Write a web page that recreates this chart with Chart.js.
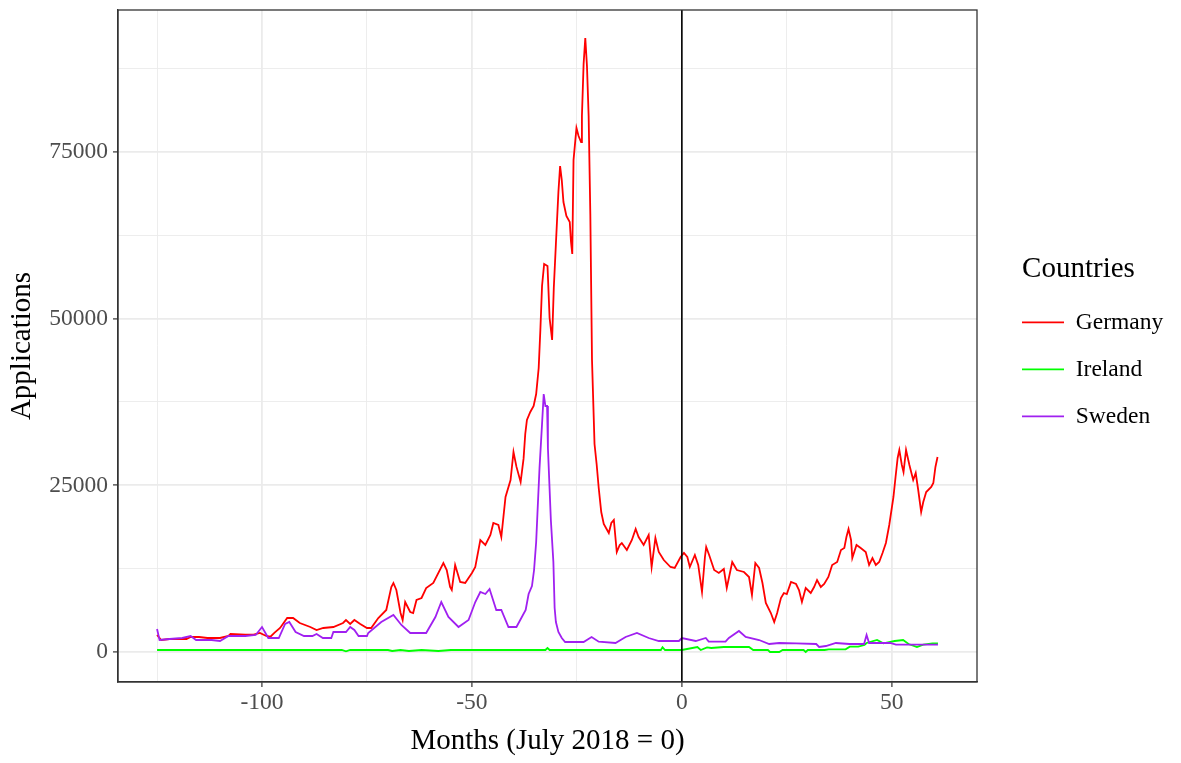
<!DOCTYPE html>
<html>
<head>
<meta charset="utf-8">
<script src="https://cdn.jsdelivr.net/npm/chart.js@4.4.1/dist/chart.umd.min.js"></script>
<style>
  html, body { margin: 0; padding: 0; background: #ffffff; }
  #wrap { width: 1181px; height: 763px; }
</style>
</head>
<body>
<div id="wrap"><canvas id="c" width="1181" height="763"></canvas></div>
<script>
// ---------------- data ----------------
const countries = ['Germany', 'Ireland', 'Sweden'];
const seriesColors = ['#ff0000', '#00ff00', '#a020f0'];

const germanyMonths = [-125,-124,-122,-120,-118,-117,-115,-113,-110,-108,-107.5,-104,-102,-100.5,-99,-98,-97,-95.7,-94,-92.6,-91,-88.5,-87,-85.4,-83,-80.7,-80,-79,-78,-76.6,-75,-74,-72.3,-70.4,-69.2,-68.7,-68,-67,-66.5,-65.9,-64.7,-64,-63.2,-62,-60.9,-59.2,-56.8,-56,-55.2,-54.8,-54,-52.8,-51.6,-50,-49.2,-48,-46.8,-45.6,-44.9,-43.7,-43,-42,-40.8,-40.1,-39.4,-38.4,-37.7,-37.3,-36.9,-36.1,-35.3,-34.7,-34.1,-33.7,-33.3,-32.8,-32,-31.5,-30.9,-30.5,-30,-29.4,-29,-28.6,-28.2,-27.5,-26.7,-26.4,-26.1,-25.8,-25.1,-24.6,-24,-23.8,-23.4,-23,-22.6,-22.2,-21.8,-21.4,-20.8,-20.3,-19.8,-19.2,-18.6,-17.4,-16.8,-16.2,-15.5,-14.8,-14.3,-13.1,-11.9,-11,-10.3,-9.1,-7.9,-7.2,-6.3,-5.5,-4.3,-2.7,-1.7,-0.3,0.5,1.3,1.9,3.1,3.9,4.8,5.5,5.8,6.5,7.7,8.8,10,10.7,12,13.1,14.8,16,16.7,17.5,18.4,19.2,20,21.2,22,22.7,23.6,24.3,25,26,27.2,27.9,28.6,29.5,30.7,31.5,32.2,33.1,33.9,34.9,35.8,37,37.9,38.7,39.2,39.7,40.3,40.6,41.6,42.6,43.8,44.6,45.4,46.2,47,47.8,48.6,49.4,50.4,50.9,51.4,51.8,52.4,52.8,53.4,54.2,55.1,55.7,56.3,57,57.5,58.2,59.4,59.9,60.4,60.9];
const germanyApps = [2550,1800,1950,1950,1950,2250,2250,2100,2100,2400,2700,2600,2600,2850,2400,2300,2900,3600,5100,5100,4350,3750,3300,3600,3750,4350,4800,4200,4800,4200,3600,3600,5100,6300,9750,10350,9300,5850,4800,7500,6000,5850,7800,8100,9600,10350,13350,12300,9750,9300,13050,10500,10350,11850,12750,16800,16050,17550,19350,19050,17250,23250,25800,30000,27800,25500,29000,32700,34800,36000,36900,38700,42600,48300,54900,58200,57900,50100,46800,54600,61200,69000,72900,70800,67500,65400,64500,61500,59700,73800,78600,77400,76500,80400,88200,92100,87900,80400,65700,43800,31200,28200,24600,21000,19200,17850,19350,19800,15000,16050,16350,15300,16800,18450,17250,16050,17550,12750,17100,15000,13800,12750,12600,14250,14850,14250,12750,14550,13050,9000,14250,15750,14550,12300,11850,12450,9600,13500,12300,12000,11250,8550,13350,12600,10350,7350,5850,4500,5850,8100,8850,8700,10500,10200,9300,7500,9600,8850,9750,10800,9750,10200,11250,13050,13500,15300,15600,17250,18450,16800,14100,16050,15600,15000,13050,14100,13050,13500,14850,16350,19050,23250,26250,29100,30300,28050,27000,30300,28050,25800,26850,24300,21000,22500,24000,24750,25350,27750,29250];

const irelandMonths = [-125,-81,-80,-79,-70,-69,-67,-65,-62,-58,-55,-32.5,-32,-31.5,-5,-4.6,-4,0,3.7,4.5,6,7,10,16,17,20.5,21,23.2,24,29,29.5,30,34,35,39,40,42,43.5,44,46.5,48,50.7,52.7,54,56,57.5,59.7,61];
const irelandApps = [300,300,100,300,300,150,300,150,300,150,300,300,600,300,300,700,300,300,750,300,700,600,750,750,300,300,0,0,300,300,0,300,300,400,400,800,800,1050,1350,1800,1300,1650,1800,1200,750,1100,1300,1300];

const swedenMonths = [-125,-124.4,-122,-119,-117,-115.7,-112,-110,-108,-104,-101.5,-100,-98.5,-96,-94.5,-93.5,-92,-90,-88,-87,-85.5,-83.5,-83,-80,-79,-78,-77,-75,-74.7,-71.6,-68.7,-66.8,-64.7,-60.9,-58.7,-57.3,-55.6,-53.2,-50.8,-49.2,-48,-46.8,-45.8,-44.2,-43,-41.3,-39.4,-37.2,-36.5,-35.7,-35.2,-34.7,-34.4,-33.9,-33.3,-32.9,-32.5,-32.1,-31.9,-31.2,-30.6,-30.3,-30,-29.4,-28.6,-27.8,-23.4,-21.5,-19.8,-15.8,-13.4,-10.7,-7.9,-5.5,-0.7,0,3.3,5.7,6.4,10.4,11.2,13.6,15.2,18.4,20.8,23.2,27.2,32,32.7,34.3,36.7,39.9,43.4,44,44.6,49.6,51,61];
const swedenApps = [3450,1800,1950,2100,2400,1800,1800,1650,2400,2400,2550,3750,2100,2100,4200,4500,3000,2400,2400,2700,2100,2100,3000,3000,3750,3300,2400,2400,2850,4500,5550,4050,2850,2850,5250,7500,5250,3750,4800,7500,9000,8700,9450,6300,6300,3750,3750,6300,8700,9900,12300,16500,20700,27600,34200,38700,36900,36900,30600,19800,13500,6600,4500,3000,2100,1500,1500,2250,1550,1350,2250,2850,2100,1650,1650,2100,1650,2100,1550,1550,2100,3150,2250,1800,1200,1350,1300,1200,750,900,1350,1200,1200,2550,1350,1350,1100,1100];

const xTicks = [-125, -100, -75, -50, -25, 0, 25, 50];
const xLabelled = [-100, -50, 0, 50];
const yTicks = [0, 12500, 25000, 37500, 50000, 62500, 75000, 87500];
const yLabelled = [0, 25000, 50000, 75000];
const xRange = [-134.3, 70.3];
const yRange = [-4500, 96300];

// ---------------- chart ----------------
const serif = '"Liberation Serif", "Times New Roman", serif';
const seriesMonths = [germanyMonths, irelandMonths, swedenMonths];
const seriesApps = [germanyApps, irelandApps, swedenApps];

const datasets = countries.map((name, k) => ({
  label: name,
  data: seriesMonths[k].map((m, i) => ({ x: m, y: seriesApps[k][i] })),
  borderColor: seriesColors[k],
  backgroundColor: seriesColors[k],
  borderWidth: 1.8,
  pointRadius: 0,
  pointHoverRadius: 0,
  tension: 0,
  order: 3 - k
}));

const panelFrame = {
  id: 'panelFrame',
  afterDatasetsDraw(chart) {
    const { ctx, chartArea: a, scales } = chart;
    const x0 = scales.x.getPixelForValue(0);
    ctx.save();
    ctx.strokeStyle = '#000000';
    ctx.lineWidth = 1.6;
    ctx.beginPath();
    ctx.moveTo(x0, a.top);
    ctx.lineTo(x0, a.bottom);
    ctx.stroke();
    ctx.restore();
  },
  afterDraw(chart) {
    const { ctx, chartArea: a } = chart;
    ctx.save();
    ctx.strokeStyle = '#333333';
    ctx.lineWidth = 1.3;
    ctx.strokeRect(a.left, a.top, a.right - a.left, a.bottom - a.top);
    ctx.restore();
  }
};

const legendShift = {
  id: 'legendShift',
  afterLayout(chart) {
    const lg = chart.legend;
    if (lg) { lg.left += 21.5; lg.right = chart.width; }
  }
};

new Chart(document.getElementById('c'), {
  type: 'line',
  data: { datasets },
  plugins: [panelFrame, legendShift],
  options: {
    responsive: false,
    devicePixelRatio: 1,
    animation: false,
    layout: { padding: { left: 0, top: 10, right: 44, bottom: 0 } },
    plugins: {
      tooltip: { enabled: false },
      legend: {
        position: 'right',
        align: 'center',
        fullSize: false,
        maxWidth: 160,
        title: {
          display: true,
          text: 'Countries',
          position: 'center',
          color: '#000000',
          font: { family: serif, size: 29, lineHeight: 1.1 },
          padding: { top: 15, bottom: 0 }
        },
        labels: {
          usePointStyle: true,
          pointStyle: 'line',
          pointStyleWidth: 42,
          padding: 23.5,
          color: '#000000',
          font: { family: serif, size: 23.5 },
          sort: (a, b) => a.datasetIndex - b.datasetIndex
        }
      }
    },
    scales: {
      x: {
        type: 'linear',
        min: xRange[0],
        max: xRange[1],
        afterFit(scale) { scale.height = 81; scale.paddingLeft = 0; scale.paddingRight = 0; },
        afterBuildTicks(scale) { scale.ticks = xTicks.map(v => ({ value: v })); },
        ticks: {
          autoSkip: false,
          maxRotation: 0,
          padding: 2,
          color: '#4d4d4d',
          font: { family: serif, size: 23.5 },
          callback: (v) => xLabelled.includes(v) ? String(v) : ''
        },
        grid: {
          color: '#ebebeb',
          lineWidth: (c) => (c.tick && xLabelled.includes(c.tick.value)) ? 1.8 : 0.9,
          tickColor: (c) => (c.tick && xLabelled.includes(c.tick.value)) ? '#333333' : 'rgba(0,0,0,0)',
          tickLength: 5,
          tickWidth: 1.2
        },
        border: { display: true, color: '#333333', width: 1.3 },
        title: {
          display: true,
          text: 'Months (July 2018 = 0)',
          color: '#000000',
          font: { family: serif, size: 29 },
          padding: { top: 0, bottom: 4 }
        }
      },
      y: {
        type: 'linear',
        min: yRange[0],
        max: yRange[1],
        afterFit(scale) { scale.width = 118; scale.paddingTop = 0; scale.paddingBottom = 0; },
        afterBuildTicks(scale) { scale.ticks = yTicks.map(v => ({ value: v })); },
        ticks: {
          autoSkip: false,
          padding: 5,
          color: '#4d4d4d',
          font: { family: serif, size: 23.5 },
          callback: (v) => yLabelled.includes(v) ? String(v) : ''
        },
        grid: {
          color: '#ebebeb',
          lineWidth: (c) => (c.tick && yLabelled.includes(c.tick.value)) ? 1.8 : 0.9,
          tickColor: (c) => (c.tick && yLabelled.includes(c.tick.value)) ? '#333333' : 'rgba(0,0,0,0)',
          tickLength: 5,
          tickWidth: 1.2
        },
        border: { display: true, color: '#333333', width: 1.3 },
        title: {
          display: true,
          text: 'Applications',
          color: '#000000',
          font: { family: serif, size: 29 },
          padding: { top: 5, bottom: 0 }
        }
      }
    }
  }
});
</script>
</body>
</html>
